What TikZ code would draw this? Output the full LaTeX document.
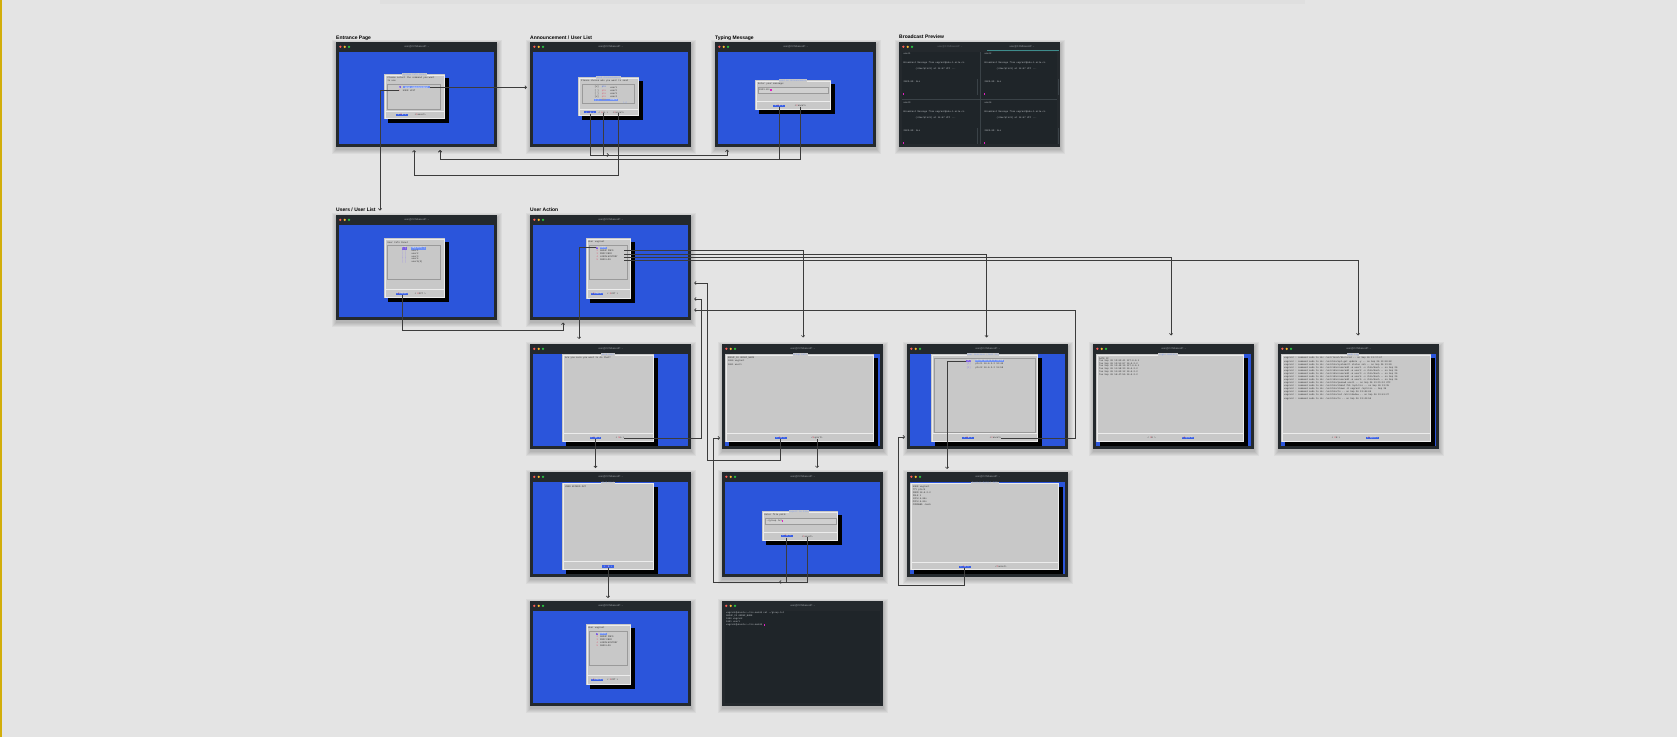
\documentclass[tikz,border=0pt]{standalone}
\usepackage{fontspec}
\setmainfont{Liberation Sans}
\setsansfont{Liberation Sans}
\setmonofont{Liberation Mono}
\usetikzlibrary{arrows.meta}

\definecolor{bgc}{HTML}{E4E4E4}
\definecolor{framec}{HTML}{24292D}
\definecolor{scrblue}{HTML}{2B55DB}
\definecolor{termbg}{HTML}{1F2529}
\definecolor{dlgc}{HTML}{C8C8C8}
\definecolor{dlgrim}{HTML}{ECECEC}
\definecolor{boxedge}{HTML}{9A9A9A}
\definecolor{ttdark}{HTML}{2A2A2A}
\definecolor{dtitle}{HTML}{7E9CF2}
\definecolor{hlc}{HTML}{6E8FF2}
\definecolor{btnc}{HTML}{3A60E4}
\definecolor{btnred}{HTML}{E0304A}
\definecolor{idxpurple}{HTML}{7B5CE0}
\definecolor{idxred}{HTML}{D9506A}
\definecolor{idxlav}{HTML}{8C7CF0}
\definecolor{tagorange}{HTML}{E0902A}
\definecolor{termtext}{HTML}{C9CDD1}
\definecolor{termdim}{HTML}{6B7075}
\definecolor{termline}{HTML}{3A4247}
\definecolor{cursorc}{HTML}{E020C0}
\definecolor{linec}{HTML}{3C3C3C}
\definecolor{dotr}{HTML}{FF5F57}
\definecolor{doty}{HTML}{FEBC2E}
\definecolor{dotg}{HTML}{28C840}
\definecolor{gold}{HTML}{D2AE0A}
\definecolor{tealc}{HTML}{3E8C8C}
\definecolor{titlegray}{HTML}{A0A5AA}

\newcommand\tld{\textasciitilde}
\newcommand\ttsz{\fontsize{2.3pt}{2.8pt}\selectfont\ttfamily}

\tikzset{
  winframe/.style={fill=framec, minimum width=161pt, minimum height=105pt, inner sep=0pt, outer sep=0pt, anchor=north west},
  wtitle/.style={font=\fontsize{2.5pt}{3pt}\selectfont\sffamily, text=titlegray, inner sep=0pt},
  lab/.style={font=\fontsize{5pt}{6pt}\selectfont\bfseries, inner sep=0pt, anchor=base west, text=black},
  tt/.style={font=\ttsz, inner sep=0pt, anchor=west, text=ttdark},
  term/.style={font=\ttsz, inner sep=0pt, anchor=west, text=termtext},
  dttl/.style={font=\ttsz, text=dtitle, fill=dlgc, inner xsep=0.6pt, inner ysep=0.2pt},
  hl/.style={font=\ttsz, fill=hlc, text=white, inner xsep=0.8pt, inner ysep=0.35pt, anchor=west},
  idxbox/.style={font=\ttsz, fill=idxpurple, text=white, inner xsep=0.4pt, inner ysep=0.35pt, anchor=west},
  btn/.style={font=\ttsz, fill=btnc, text=white, inner xsep=0.6pt, inner ysep=0.4pt, minimum width=12pt},
  btnoff/.style={font=\ttsz, text=ttdark, inner sep=0pt},
  listbox/.style={draw=boxedge, line width=0.3pt},
  sepline/.style={draw=dlgrim, line width=0.35pt},
  conn/.style={draw=linec, line width=0.7pt, -{Straight Barb[length=1.6pt,width=3.2pt]}},
}

% terminal window: name, x, y, content colour, title
\newcommand\termwin[5]{%
  \begin{scope}[shift={(#2,#3)}]
    \foreach \s in {1,...,5}{\fill[black,opacity=0.045] (0.5-\s,3-\s) rectangle (160.5+\s,107+\s);}
    \node[winframe] (#1) at (0,0) {};
    \fill[#4] (3,10) rectangle (157.5,102);
    \fill[dotr] (4.3,4.8) circle (1.25pt);
    \fill[doty] (8.7,4.8) circle (1.25pt);
    \fill[dotg] (13,4.8) circle (1.25pt);
    \node[wtitle] (#1-title) at (80.7,4.8) {#5};
  \end{scope}}

% dialog box with its hard shadow: x1, y1, x2, y2
\newcommand\dlgpanel[4]{%
  \fill[black] (#1+3.5,#2+4) rectangle (#3+3.5,#4+4);
  \fill[dlgc] (#1,#2) rectangle (#3,#4);
  \draw[dlgrim, line width=0.3pt] (#1+0.7,#2+0.7) rectangle (#3-0.7,#4-0.7);}

% the "User vagrant" action menu
\newcommand\uadlg[1]{%
  \dlgpanel{56}{23}{101}{84}
  \node[tt] (#1-ttl) at (57.8,27.3) {User vagrant};
  \draw[listbox] (59,30) rectangle (97.3,64.5);
  \node[idxbox] (#1-idx1) at (66,32.7) {1};
  \node[hl] (#1-r1) at (69.6,32.7) {KICK};
  \node[tt,text=idxred] (#1-idx2) at (66.4,35.8) {2};
  \node[tt,text width=24pt,align=left] (#1-r2) at (70,35.8) {GROUP INFO};
  \node[tt,text=idxred] (#1-idx3) at (66.4,38.9) {3};
  \node[tt,text width=24pt,align=left] (#1-r3) at (70,38.9) {PROC INFO};
  \node[tt,text=idxred] (#1-idx4) at (66.4,42) {4};
  \node[tt,text width=24pt,align=left] (#1-r4) at (70,42) {LOGIN HISTORY};
  \node[tt,text=idxred] (#1-idx5) at (66.4,45.1) {5};
  \node[tt,text width=24pt,align=left] (#1-r5) at (70,45.1) {SUDO LOG};
  \draw[sepline] (57,74.5) -- (100,74.5);
  \node[btn] (#1-sel) at (67.2,79) {<\textcolor{btnred}{S}elect>};
  \node[btnoff] (#1-exit) at (82.7,79) {< \textcolor{btnred}{E}XIT >};}

% one pane of the broadcast preview: name, x, y, user
\newcommand\bcpane[4]{%
  \node[term] (#1-u) at (#2+1.5,#3+2) {#4};
  \node[term] (#1-m) at (#2+1.5,#3+10.7) {Broadcast Message from vagrant@ubu-1.eclu.cs};
  \node[term] (#1-d) at (#2+13.5,#3+16.7) {(/dev/pts/0) at 14:47 UTC ...};
  \node[term] (#1-a) at (#2+1.5,#3+29.3) {2023-03: ALL};
  \fill[cursorc] (#2+1.2,#3+40.5) rectangle (#2+2.4,#3+43);
  \draw[termline, line width=0.3pt] (#2+75,#3+27) -- (#2+75,#3+43);}

\begin{document}
\begin{tikzpicture}[x=1pt,y=-1pt]
\useasboundingbox (0,0) rectangle (1677,737);
\fill[bgc] (0,0) rectangle (1677,737);
\fill[black,opacity=0.02] (380,0) rectangle (1305,4);
\fill[gold] (0,0) rectangle (2.2,737);

% ---------- section labels ----------
\node[lab] (lb-ent) at (336,39) {Entrance Page};
\node[lab] (lb-ann) at (530,39) {Announcement / User List};
\node[lab] (lb-typ) at (715,39) {Typing Message};
\node[lab] (lb-bc)  at (899,38) {Broadcast Preview};
\node[lab] (lb-usr) at (336,211) {Users / User List};
\node[lab] (lb-ua)  at (530,211) {User Action};

% ---------- entrance page ----------
\termwin{w-ent}{336}{42}{scrblue}{user@CCMbaseHP: \tld}
\begin{scope}[shift={(336,42)}]
  \dlgpanel{48}{32}{109}{77}
  \node[dttl] (e-ttl) at (78.5,32.6) {System Info Panel};
  \node[tt] (e-l1) at (51.3,36.3) {Please select the command you want};
  \node[tt] (e-l2) at (51.3,39) {to use};
  \draw[listbox] (51.3,42.3) rectangle (104,67);
  \node[idxbox] (e-idx1) at (62.3,45.3) {1};
  \node[hl,minimum width=27.3pt] (e-send) at (66.7,45.3) {SEND ANNOUNCEMENT};
  \node[tt,text=idxred] (e-idx2) at (62.5,48.7) {2};
  \node[tt] (e-users) at (66.7,48.7) {USER LIST};
  \draw[sepline] (49,69.5) -- (108,69.5);
  \node[btn] (e-ok) at (66,73) {< \textcolor{btnred}{O}K >};
  \node[btnoff] (e-cancel) at (84.3,73) {<\textcolor{btnred}{C}ancel>};
\end{scope}

% ---------- announcement / user list ----------
\termwin{w-ann}{530}{42}{scrblue}{user@CCMbaseHP: \tld}
\begin{scope}[shift={(530,42)}]
  \dlgpanel{48}{35}{109}{74}
  \node[dttl] (a-ttl) at (78.5,35.5) {Send Announcement};
  \node[tt] (a-l1) at (51,39.3) {Please choose who you want to send};
  \draw[listbox] (52,42.3) rectangle (104,60.7);
  \node[tt] (a-c1) at (64.5,45.3) {[x]};
  \node[tt,text=btnc] (a-g1) at (71.7,45.3) {pts};
  \node[tt] (a-n1) at (80,45.3) {user1};
  \node[tt] (a-c2) at (64.5,48.5) {[ ]};
  \node[tt,text=idxred] (a-g2) at (71.7,48.5) {pts};
  \node[tt] (a-n2) at (80,48.5) {user2};
  \node[tt] (a-c3) at (64.5,51.7) {[ ]};
  \node[tt,text=idxred] (a-g3) at (71.7,51.7) {pts};
  \node[tt] (a-n3) at (80,51.7) {user3};
  \node[tt] (a-c4) at (64.5,54.9) {[x]};
  \node[tt,text=idxred] (a-g4) at (71.7,54.9) {pts};
  \node[tt] (a-n4) at (80,54.9) {user4};
  \fill[hlc] (64,56.7) rectangle (87.5,59.4);
  \node[tt,text=white] (a-c5) at (64.5,58) {[ ]};
  \node[tt,text=tagorange] (a-g5) at (71.7,58) {pts};
  \node[tt,text=white] (a-n5) at (80,58) {user5};
  \node[tt,text=dtitle] (a-more) at (93,60.7) {(+)};
  \draw[sepline] (49,66.8) -- (108,66.8);
  \node[btn] (a-ok) at (60,70.3) {< \textcolor{btnred}{O}K >};
  \node[btnoff] (a-all) at (73.5,70.3) {< \textcolor{btnred}{A}LL >};
  \node[btnoff] (a-cancel) at (88.5,70.3) {<\textcolor{btnred}{C}ancel>};
\end{scope}

% ---------- typing message ----------
\termwin{w-typ}{715}{42}{scrblue}{user@CCMbaseHP: \tld}
\begin{scope}[shift={(715,42)}]
  \dlgpanel{40}{38}{116}{68}
  \node[dttl] (t-ttl) at (78,38.5) {Send an Announcement};
  \node[tt] (t-l1) at (43,42) {Enter your message:};
  \draw[boxedge,fill=dlgc!85!white,line width=0.35pt] (43,45) rectangle (113,51);
  \node[tt] (t-in) at (44,48) {2023-03:};
  \fill[cursorc] (55.4,46.8) rectangle (56.8,49.3);
  \draw[sepline] (41,59) -- (115,59);
  \node[btn] (t-ok) at (64,63.7) {< \textcolor{btnred}{O}K >};
  \node[btnoff] (t-cancel) at (85.5,63.7) {<\textcolor{btnred}{C}ancel>};
\end{scope}

% ---------- broadcast preview ----------
\termwin{w-bc}{899}{42}{termbg}{}
\begin{scope}[shift={(899,42)}]
  \node[wtitle,text=termdim] (bc-tab1) at (51,4.8) {user@CCMbaseHP: \tld};
  \node[wtitle] (bc-tab2) at (123,4.8) {user@CCMbaseHP: \tld};
  \draw[tealc,line width=0.9pt] (88,8.6) -- (160,8.6);
  \draw[termline,line width=0.4pt] (81,10) -- (81,102);
  \draw[termline,line width=0.4pt] (3,57) -- (157.5,57);
  \bcpane{bc1}{3}{10}{user1}
  \bcpane{bc2}{84}{10}{user2}
  \bcpane{bc3}{3}{59}{user3}
  \bcpane{bc4}{84}{59}{user4}
\end{scope}

% ---------- users / user list ----------
\termwin{w-usr}{336}{215}{scrblue}{user@CCMbaseHP: \tld}
\begin{scope}[shift={(336,215)}]
  \dlgpanel{48}{23}{109}{83}
  \node[tt] (u-ttl) at (51.3,27.3) {User Info Panel};
  \draw[listbox] (51.3,30) rectangle (104,64);
  \node[idxbox] (u-i1) at (65.7,33.3) {[*]};
  \node[hl] (u-n1) at (74.5,33.3) {vagrant(*)};
  \node[tt,text=idxlav] (u-i2) at (65.9,36) {[ ]};
  \node[tt] (u-n2) at (75.3,36) {user1};
  \node[tt,text=idxlav] (u-i3) at (65.9,38.7) {[ ]};
  \node[tt] (u-n3) at (75.3,38.7) {user2};
  \node[tt,text=idxlav] (u-i4) at (65.9,41.4) {[ ]};
  \node[tt] (u-n4) at (75.3,41.4) {user3};
  \node[tt,text=idxlav] (u-i5) at (65.9,44.1) {[ ]};
  \node[tt] (u-n5) at (75.3,44.1) {user4};
  \node[tt,text=idxlav] (u-i6) at (65.9,46.8) {[ ]};
  \node[tt] (u-n6) at (75.3,46.8) {user5(X)};
  \draw[sepline] (49,74.5) -- (108,74.5);
  \node[btn] (u-detail) at (66.2,79) {<\textcolor{btnred}{D}etail>};
  \node[btnoff] (u-exit) at (84.3,79) {< \textcolor{btnred}{E}XIT >};
\end{scope}

% ---------- user action ----------
\termwin{w-ua}{530}{215}{scrblue}{user@CCMbaseHP: \tld}
\begin{scope}[shift={(530,215)}]
  \uadlg{ua}
\end{scope}

% ---------- kick confirmation ----------
\termwin{w-kick}{530}{344}{scrblue}{user@CCMbaseHP: \tld}
\begin{scope}[shift={(530,344)}]
  \dlgpanel{32}{10}{124}{98}
  \node[dttl] (k-ttl) at (78,10.5) {Kick User};
  \node[tt] (k-l1) at (35,14.3) {Are you sure you want to do that?};
  \draw[sepline] (33,89) -- (123,89);
  \node[btn,minimum width=11pt] (k-yes) at (65.5,94) {< \textcolor{btnred}{Y}es >};
  \node[btnoff] (k-no) at (90,94) {< \textcolor{btnred}{N}o >};
\end{scope}

% ---------- group info ----------
\termwin{w-grp}{722}{344}{scrblue}{user@CCMbaseHP: \tld}
\begin{scope}[shift={(722,344)}]
  \dlgpanel{3}{10}{152}{98}
  \node[dttl] (g-ttl) at (78,10.5) {Group Info};
  \node[tt] (g-l1) at (5.7,14.3) {GROUP\_ID  GROUP\_NAME};
  \node[tt] (g-l2) at (5.7,17.3) {1000      vagrant};
  \node[tt] (g-l3) at (5.7,20.3) {1001  user1};
  \draw[sepline] (4,89) -- (151,89);
  \node[btn] (g-ok) at (58.5,94) {< \textcolor{btnred}{O}K >};
  \node[btnoff] (g-export) at (95,94) {<\textcolor{btnred}{E}xport>};
\end{scope}

% ---------- user sessions ----------
\termwin{w-ses}{907}{344}{scrblue}{user@CCMbaseHP: \tld}
\begin{scope}[shift={(907,344)}]
  \dlgpanel{24}{10}{131}{98}
  \node[dttl] (s-ttl) at (76,10.5) {User Sessions (last 10)};
  \draw[listbox] (27,13.7) rectangle (128,88);
  \node[idxbox] (s-idx1) at (59,17) {[1]};
  \node[hl] (s-r1) at (67.6,17) {pts/0 10.0.2.2 13:02};
  \node[tt,text=idxlav] (s-idx2) at (59.4,20.3) {[2]};
  \node[tt] (s-r2) at (68.4,20.3) {pts/1 10.0.2.2 12:40};
  \node[tt,text=idxlav] (s-idx3) at (59.4,23.6) {[3]};
  \node[tt] (s-r3) at (68.4,23.6) {pts/2 10.0.2.2 11:58};
  \draw[sepline] (25,89.5) -- (130,89.5);
  \node[btn] (s-ok) at (61,94) {< \textcolor{btnred}{O}K >};
  \node[btnoff] (s-cancel) at (88.5,94) {<\textcolor{btnred}{C}ancel>};
\end{scope}

% ---------- login history ----------
\termwin{w-last}{1093}{344}{scrblue}{user@CCMbaseHP: \tld}
\begin{scope}[shift={(1093,344)}]
  \dlgpanel{3}{10}{151}{98}
  \node[dttl] (lh-ttl) at (75,10.5) {Login History};
  \node[tt] (lh-l0) at (6,14.3) {DATE IP};
  \node[tt] (lh-l1) at (6,17) {Tue Sep 26 13:02:41 127.0.0.1};
  \node[tt] (lh-l2) at (6,19.7) {Tue Sep 26 12:51:07 10.0.2.2};
  \node[tt] (lh-l3) at (6,22.4) {Tue Sep 26 12:40:19 127.0.0.1};
  \node[tt] (lh-l4) at (6,25.1) {Tue Sep 26 11:58:33 10.0.2.2};
  \node[tt] (lh-l5) at (6,27.8) {Tue Sep 26 11:02:12 10.0.2.2};
  \node[tt] (lh-l6) at (6,30.5) {Tue Sep 26 10:47:55 10.0.2.2};
  \draw[sepline] (4,89) -- (150,89);
  \node[btnoff] (lh-ok) at (58.7,94) {< \textcolor{btnred}{O}K >};
  \node[btn] (lh-export) at (95,94) {<\textcolor{btnred}{E}xport>};
\end{scope}

% ---------- sudo log ----------
\termwin{w-sudo}{1278}{344}{scrblue}{user@CCMbaseHP: \tld}
\begin{scope}[shift={(1278,344)}]
  \dlgpanel{3}{10}{153}{98}
  \node[dttl] (sd-ttl) at (75,10.5) {Sudo Log};
  \node[tt] (sd-l1)  at (6,14.3) {vagrant : command sudo to do: /usr/local/bin/ccsd -- on Sep 26 13:17:07};
  \node[tt] (sd-l2)  at (6,17.4) {vagrant : command sudo to do: /usr/bin/apt-get update -y -- on Sep 26 13:18:02};
  \node[tt] (sd-l3)  at (6,20.5) {vagrant : command sudo to do: /usr/bin/systemctl status ssh -- on Sep 26 13:20};
  \node[tt] (sd-l4)  at (6,23.5) {vagrant : command sudo to do: /usr/sbin/useradd -m user1 -s /bin/bash -- on Sep 26};
  \node[tt] (sd-l5)  at (6,26.6) {vagrant : command sudo to do: /usr/sbin/useradd -m user2 -s /bin/bash -- on Sep 26};
  \node[tt] (sd-l6)  at (6,29.7) {vagrant : command sudo to do: /usr/sbin/useradd -m user3 -s /bin/bash -- on Sep 26};
  \node[tt] (sd-l7)  at (6,32.8) {vagrant : command sudo to do: /usr/sbin/useradd -m user4 -s /bin/bash -- on Sep 26};
  \node[tt] (sd-l8)  at (6,35.9) {vagrant : command sudo to do: /usr/sbin/useradd -m user5 -s /bin/bash -- on Sep 26};
  \node[tt] (sd-l9)  at (6,39) {vagrant : command sudo to do: /usr/bin/passwd user1 -- on Sep 26 13:31:12 UTC};
  \node[tt] (sd-l10) at (6,42) {vagrant : command sudo to do: /usr/bin/chmod 755 /opt/ccs -- on Sep 26 13:35};
  \node[tt] (sd-l11) at (6,45.1) {vagrant : command sudo to do: /usr/bin/chown -R vagrant /opt/ccs -- Sep 26};
  \node[tt] (sd-l12) at (6,48.2) {vagrant : command sudo to do: /usr/bin/ls -- on Sep 26 13:40:05};
  \node[tt] (sd-l13) at (6,51.3) {vagrant : command sudo to do: /usr/bin/cat /etc/shadow -- on Sep 26 13:41:27};
  \node[tt] (sd-l14) at (6,54.4) {vagrant : command sudo to do: /usr/bin/ls -- on Sep 26 13:43:50};
  \draw[sepline] (4,89) -- (152,89);
  \node[btnoff] (sd-ok) at (58,94) {< \textcolor{btnred}{O}K >};
  \node[btn] (sd-export) at (94.5,94) {<\textcolor{btnred}{E}xport>};
\end{scope}

% ---------- kick result ----------
\termwin{w-klog}{530}{472}{scrblue}{user@CCMbaseHP: \tld}
\begin{scope}[shift={(530,472)}]
  \dlgpanel{32}{10.5}{124}{98}
  \node[dttl] (kl-ttl) at (78,11) {Kick User};
  \node[tt] (kl-l1) at (35,14.8) {USER KICKED OUT};
  \draw[sepline] (33,89.5) -- (123,89.5);
  \node[btn] (kl-ok) at (78,94.5) {< \textcolor{btnred}{O}K >};
\end{scope}

% ---------- export to file ----------
\termwin{w-exp}{722}{472}{scrblue}{user@CCMbaseHP: \tld}
\begin{scope}[shift={(722,472)}]
  \dlgpanel{40}{39}{116}{69}
  \node[dttl] (x-ttl) at (77,39.4) {Export to File};
  \node[tt] (x-l1) at (42.3,42.6) {Enter file path:};
  \draw[boxedge,fill=dlgc!85!white,line width=0.35pt] (43,45.7) rectangle (114,52.3);
  \node[tt] (x-in) at (44.5,49) {\tld/group.txt};
  \fill[cursorc] (60,47.7) rectangle (61.4,50.3);
  \draw[sepline] (41,60.6) -- (115,60.6);
  \node[btn] (x-ok) at (64.5,64.2) {< \textcolor{btnred}{O}K >};
  \node[btnoff] (x-cancel) at (85.3,64.2) {<\textcolor{btnred}{C}ancel>};
\end{scope}

% ---------- session details ----------
\termwin{w-det}{907}{472}{scrblue}{user@CCMbaseHP: \tld}
\begin{scope}[shift={(907,472)}]
  \dlgpanel{3}{10.5}{152}{98}
  \node[dttl] (d-ttl) at (78,11) {Session Detail Info};
  \node[tt] (d-l1) at (5.7,15) {USER vagrant};
  \node[tt] (d-l2) at (5.7,18) {TTY pts/0};
  \node[tt] (d-l3) at (5.7,21) {FROM 10.0.2.2};
  \node[tt] (d-l4) at (5.7,24) {IDLE 1};
  \node[tt] (d-l5) at (5.7,27) {JCPU 0.05s};
  \node[tt] (d-l6) at (5.7,30) {PCPU 0.01s};
  \node[tt] (d-l7) at (5.7,33) {COMMAND -bash};
  \draw[sepline] (4,90) -- (151,90);
  \node[btn] (d-ok) at (57.5,94.7) {< \textcolor{btnred}{O}K >};
  \node[btnoff] (d-cancel) at (94,94.7) {<\textcolor{btnred}{C}ancel>};
\end{scope}

% ---------- back to user action ----------
\termwin{w-ua2}{530}{601}{scrblue}{user@CCMbaseHP: \tld}
\begin{scope}[shift={(530,601)}]
  \uadlg{ub}
\end{scope}

% ---------- exported file in a shell ----------
\termwin{w-sh}{722}{601}{termbg}{user@CCMbaseHP: \tld}
\begin{scope}[shift={(722,601)}]
  \node[term] (sh-l1) at (4,12.3) {vagrant@ubuntu:\tld/ccs-main\$ cat \tld/group.txt};
  \node[term] (sh-l2) at (4,15.2) {GROUP\_ID  GROUP\_NAME};
  \node[term] (sh-l3) at (4,18.1) {1000      vagrant};
  \node[term] (sh-l4) at (4,21) {1001  user1};
  \node[term] (sh-l5) at (4,23.9) {vagrant@ubuntu:\tld/ccs-main\$};
  \fill[cursorc] (41.5,22.6) rectangle (42.9,25.2);
\end{scope}

% ---------- connector ends and bends ----------
\coordinate (in-ann) at (527,87.3);
\coordinate (in-users) at (380,210.5);
\coordinate (in-typ) at (727,149.5);
\coordinate (tip-all) at (609,155);
\coordinate (in-ent1) at (414,150);
\coordinate (in-ent2) at (440,150);
\coordinate (yA) at (0,155);
\coordinate (yB) at (0,159.5);
\coordinate (yC) at (0,175);
\coordinate (yD) at (0,330);
\coordinate (yH) at (0,468);
\coordinate (yI) at (0,598);
\coordinate (in-ua) at (563,322.5);
\coordinate (in-kick) at (579,339);
\coordinate (in-grp) at (803,337.5);
\coordinate (in-ses) at (986.5,337.5);
\coordinate (in-last) at (1171,335.5);
\coordinate (in-sudo) at (1358,335.5);
\coordinate (back1) at (694,283);
\coordinate (back2) at (694,299);
\coordinate (back3) at (694,310);
\coordinate (bend-k) at (701,299);
\coordinate (bend-g) at (707,460);
\coordinate (bend-x) at (713,582);
\coordinate (in-grp-l) at (720,438);
\coordinate (tip-x) at (779,582);
\coordinate (in-det) at (947,469);
\coordinate (bend-s) at (1075,310);
\coordinate (bend-d) at (898,585);
\coordinate (in-ses-l) at (905,437);

% ---------- connectors ----------
\draw[conn] (e-send.east) -- (in-ann);
\draw[conn] (e-idx2.west) -| (in-users);
\draw[conn] (a-ok.south) -- (a-ok.south |- yA) -| (in-typ);
\draw[conn] (a-all.south) -- (a-all.south |- yA) -- (tip-all);
\draw[conn] (a-cancel.south) -- (a-cancel.south |- yC) -| (in-ent1);
\draw[conn] (t-ok.south) -- (t-ok.south |- yB) -| (in-ent2);
\draw[conn] (t-cancel.south) -- (t-cancel.south |- yB) -| (in-ent2);
\draw[conn] (u-detail.south) -- (u-detail.south |- yD) -| (in-ua);
\draw[conn] (ua-idx1.west) -| (in-kick);
\draw[conn] (ua-r2.east) -| (in-grp);
\draw[conn] (ua-r3.east) -| (in-ses);
\draw[conn] (ua-r4.east) -| (in-last);
\draw[conn] (ua-r5.east) -| (in-sudo);
\draw[conn] (k-yes.south) -- (k-yes.south |- yH);
\draw[conn] (k-no.east) -| (bend-k) -- (back2);
\draw[conn] (g-ok.south) |- (bend-g) |- (back1);
\draw[conn] (g-export.south) -- (g-export.south |- yH);
\draw[conn] (x-cancel.south) |- (bend-x) |- (in-grp-l);
\draw[conn] (x-ok.south) |- (tip-x);
\draw[conn] (s-idx1.west) -| (in-det);
\draw[conn] (s-cancel.east) -| (bend-s) -- (back3);
\draw[conn] (d-ok.south) |- (bend-d) |- (in-ses-l);
\draw[conn] (kl-ok.south) -- (kl-ok.south |- yI);
\end{tikzpicture}
\end{document}
